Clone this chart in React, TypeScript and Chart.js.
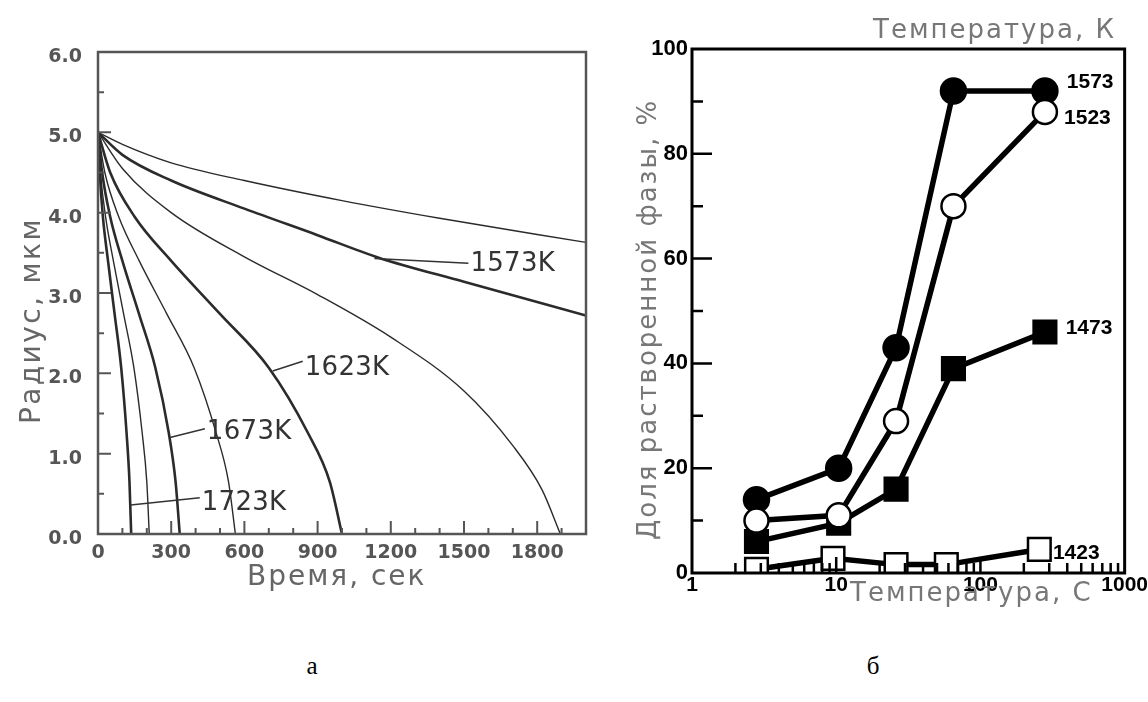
import React, { useEffect, useRef } from "react";
import { Chart, registerables } from "chart.js";

Chart.register(...registerables);

// ---------- Panel "а": radius vs time ----------
const timeTickValues = [0, 300, 600, 900, 1200, 1500, 1800];
const timeMinorTicks = [100, 200, 400, 500, 700, 800, 1000, 1100, 1300, 1400, 1600, 1700, 1900];
const radiusTickValues = [0, 1, 2, 3, 4, 5, 6];
const radiusMinorTicks = [0.5, 1.5, 2.5, 3.5, 4.5, 5.5];

// curves (time in s, radius in µm)
const tA = [0, 100, 300, 600, 1000, 1400, 2000];
const rA = [5, 4.85, 4.62, 4.4, 4.15, 3.93, 3.63];
const t1573 = [0, 100, 300, 600, 900, 1150, 1500, 2000];
const r1573 = [5, 4.72, 4.4, 4.05, 3.72, 3.44, 3.14, 2.72];
const tC = [0, 100, 300, 600, 900, 1200, 1500, 1700, 1820, 1895];
const rC = [5, 4.55, 4.0, 3.45, 2.98, 2.45, 1.78, 1.1, 0.55, 0];
const t1623 = [0, 50, 150, 300, 500, 700, 860, 950, 1000];
const r1623 = [5, 4.5, 3.95, 3.4, 2.74, 2.07, 1.26, 0.65, 0];
const tE = [0, 28, 85, 169, 282, 394, 484, 535, 563];
const rE = [5, 4.5, 3.95, 3.4, 2.74, 2.07, 1.26, 0.65, 0];
const t1673 = [0, 17, 50, 100, 168, 235, 290, 318, 335];
const r1673 = [5, 4.5, 3.95, 3.4, 2.74, 2.07, 1.26, 0.65, 0];
const tG = [0, 10, 31, 63, 105, 147, 181, 200, 210];
const rG = [5, 4.5, 3.95, 3.4, 2.74, 2.07, 1.26, 0.65, 0];
const t1723 = [0, 7, 20, 41, 68, 95, 117, 129, 136];
const r1723 = [5, 4.5, 3.95, 3.4, 2.74, 2.07, 1.26, 0.65, 0];

const leftCurveLabels = ["1573K", "1623K", "1673K", "1723K"];
const leaderFromT = [1133, 716, 295, 134];
const leaderFromR = [3.43, 2.03, 1.2, 0.36];
const leaderToT = [1518, 839, 438, 417];
const leaderToR = [3.37, 2.15, 1.31, 0.45];
const labelR = [3.37, 2.07, 1.28, 0.4];

// ---------- Panel "б": dissolved fraction vs time (log) ----------
const logTickValues = [1, 10, 100, 1000];
const logMinorTicks = [2, 3, 4, 5, 6, 7, 8, 9, 20, 30, 40, 50, 60, 70, 80, 90, 200, 300, 400, 500, 600, 700, 800, 900];
const logMajorTicks = [10, 100];
const fracTickValues = [0, 20, 40, 60, 80, 100];
const fracMinorTicks = [10, 30, 50, 70, 90];
const fracMajorTicks = [20, 40, 60, 80];

const timesMain = [2.8, 10.4, 26, 65, 280];
const times1423 = [2.8, 9.5, 26, 58, 256];
const frac1573 = [14, 20, 43, 92, 92];
const frac1523 = [10, 11, 29, 70, 88];
const frac1473 = [6, 9.5, 16, 39, 46];
const frac1423 = [0.7, 2.8, 1.6, 1.6, 4.5];

const rightLabels = ["1573", "1523", "1473", "1423"];
const rightLabelX = [397, 380, 390, 318];
const rightLabelY = [93.7, 86.8, 46.8, 3.8];

const SANS = '"DejaVu Sans", sans-serif';
const ARIAL = '"Liberation Sans", Arial, sans-serif';

function pts(xs: number[], ys: number[]) {
  return xs.map((x, i) => ({ x, y: ys[i] }));
}

function spacedText(ctx: any, text: string, x: number, y: number, spacing: number) {
  ctx.letterSpacing = spacing + "px";
  ctx.fillText(text, x, y);
  ctx.letterSpacing = "0px";
}

const leftDecor = {
  id: "leftDecor",
  afterDatasetsDraw(chart: any) {
    const { ctx, chartArea: a, scales } = chart;
    const x = scales.x;
    const y = scales.y;
    ctx.save();
    ctx.strokeStyle = "#555";
    ctx.lineWidth = 2.5;
    ctx.strokeRect(a.left, a.top, a.right - a.left, a.bottom - a.top);
    ctx.lineWidth = 2;
    ctx.beginPath();
    for (const v of radiusTickValues.slice(1, 6)) {
      const py = y.getPixelForValue(v);
      ctx.moveTo(a.left, py);
      ctx.lineTo(a.left + 13, py);
    }
    for (const v of radiusMinorTicks) {
      const py = y.getPixelForValue(v);
      ctx.moveTo(a.left, py);
      ctx.lineTo(a.left + 6, py);
    }
    for (const v of timeTickValues.slice(1)) {
      const px = x.getPixelForValue(v);
      ctx.moveTo(px, a.bottom);
      ctx.lineTo(px, a.bottom - 13);
    }
    for (const v of timeMinorTicks) {
      const px = x.getPixelForValue(v);
      ctx.moveTo(px, a.bottom);
      ctx.lineTo(px, a.bottom - 6);
    }
    ctx.stroke();

    // curve labels with leader lines
    ctx.strokeStyle = "#333";
    ctx.lineWidth = 1.5;
    ctx.fillStyle = "#333";
    ctx.font = `26px ${SANS}`;
    ctx.textBaseline = "middle";
    ctx.textAlign = "left";
    leftCurveLabels.forEach((lab, i) => {
      const x1 = x.getPixelForValue(leaderFromT[i]);
      const y1 = y.getPixelForValue(leaderFromR[i]);
      const x2 = x.getPixelForValue(leaderToT[i]);
      const y2 = y.getPixelForValue(leaderToR[i]);
      ctx.beginPath();
      ctx.moveTo(x1, y1);
      ctx.lineTo(x2, y2);
      ctx.stroke();
      spacedText(ctx, lab, x2 + 2, y.getPixelForValue(labelR[i]) + 1, 0.3);
    });

    // axis titles
    ctx.fillStyle = "#666";
    ctx.font = `28px ${SANS}`;
    ctx.textBaseline = "alphabetic";
    ctx.textAlign = "left";
    spacedText(ctx, "Время, сек", 247, 585, 2);
    ctx.save();
    ctx.translate(40, 424);
    ctx.rotate(-Math.PI / 2);
    spacedText(ctx, "Радиус, мкм", 0, 0, 2.4);
    ctx.restore();
    ctx.restore();
  },
};

const rightDecor = {
  id: "rightDecor",
  afterDatasetsDraw(chart: any) {
    const { ctx, chartArea: a, scales } = chart;
    const x = scales.x;
    const y = scales.y;
    ctx.save();
    ctx.strokeStyle = "#000";
    ctx.lineWidth = 3;
    ctx.strokeRect(a.left, a.top, a.right - a.left, a.bottom - a.top);
    ctx.lineWidth = 2.5;
    ctx.beginPath();
    for (const v of fracMajorTicks) {
      const py = y.getPixelForValue(v);
      ctx.moveTo(a.left, py);
      ctx.lineTo(a.left + 20, py);
    }
    for (const v of fracMinorTicks) {
      const py = y.getPixelForValue(v);
      ctx.moveTo(a.left, py);
      ctx.lineTo(a.left + 11, py);
    }
    for (const v of logMinorTicks) {
      const px = x.getPixelForValue(v);
      ctx.moveTo(px, a.bottom);
      ctx.lineTo(px, a.bottom - 10);
    }
    for (const v of logMajorTicks) {
      const px = x.getPixelForValue(v);
      ctx.moveTo(px, a.bottom);
      ctx.lineTo(px, a.bottom - 16);
    }
    ctx.stroke();

    ctx.fillStyle = "#000";
    ctx.font = `bold 21px ${ARIAL}`;
    ctx.textBaseline = "middle";
    ctx.textAlign = "left";
    rightLabels.forEach((lab, i) => {
      ctx.fillText(lab, x.getPixelForValue(rightLabelX[i]), y.getPixelForValue(rightLabelY[i]));
    });

    ctx.fillStyle = "#777";
    ctx.font = `26px ${SANS}`;
    ctx.textBaseline = "alphabetic";
    ctx.textAlign = "left";
    spacedText(ctx, "Температура, К", 273, 38, 2);
    spacedText(ctx, "Температура, С", 250, 601, 2);
    ctx.save();
    ctx.translate(56, 540);
    ctx.rotate(-Math.PI / 2);
    spacedText(ctx, "Доля растворенной фазы, %", 0, 0, 2);
    ctx.restore();
    ctx.restore();
  },
};

function LeftChart() {
  const ref = useRef<HTMLCanvasElement>(null);
  useEffect(() => {
    const thick = 2.6;
    const thin = 1.4;
    const mk = (t: number[], r: number[], w: number) => ({
      data: pts(t, r),
      borderColor: "#2b2b2b",
      borderWidth: w,
      pointRadius: 0,
      cubicInterpolationMode: "monotone" as const,
      fill: false,
    });
    const chart = new Chart(ref.current!, {
      type: "line",
      data: {
        datasets: [
          mk(tA, rA, thin),
          mk(t1573, r1573, thick),
          mk(tC, rC, thin),
          mk(t1623, r1623, thick),
          mk(tE, rE, thin),
          mk(t1673, r1673, thick),
          mk(tG, rG, thin),
          mk(t1723, r1723, thick),
        ],
      },
      options: {
        animation: false,
        responsive: false,
        layout: { padding: { top: 52, right: 14, left: 0, bottom: 0 } },
        plugins: { legend: { display: false }, tooltip: { enabled: false } },
        scales: {
          x: {
            type: "linear",
            min: 0,
            max: 2000,
            grid: { display: false, drawTicks: false },
            border: { display: false },
            afterBuildTicks: (s: any) => {
              s.ticks = timeTickValues.map((v) => ({ value: v }));
            },
            afterFit: (s: any) => {
              s.height = 86;
            },
            ticks: {
              autoSkip: false,
              maxRotation: 0,
              padding: 8,
              color: "#555",
              font: { family: SANS, size: 19, weight: "bold" },
              callback: (v: any) => String(v),
            },
          },
          y: {
            type: "linear",
            min: 0,
            max: 6,
            grid: { display: false, drawTicks: false },
            border: { display: false },
            afterBuildTicks: (s: any) => {
              s.ticks = radiusTickValues.map((v) => ({ value: v }));
            },
            afterFit: (s: any) => {
              s.width = 98;
            },
            ticks: {
              autoSkip: false,
              padding: 16,
              labelOffset: 5,
              color: "#555",
              font: { family: SANS, size: 19, weight: "bold" },
              callback: (v: any) => Number(v).toFixed(1),
            },
          },
        },
      },
      plugins: [leftDecor],
    });
    return () => chart.destroy();
  }, []);
  return (
    <canvas
      ref={ref}
      width={600}
      height={620}
      style={{ position: "absolute", left: 0, top: 0, width: 600, height: 620 }}
    />
  );
}

function RightChart() {
  const ref = useRef<HTMLCanvasElement>(null);
  useEffect(() => {
    const base = {
      borderColor: "#000",
      borderWidth: 5.5,
      pointBorderColor: "#000",
      pointBorderWidth: 2.5,
      fill: false,
      tension: 0,
    };
    const chart = new Chart(ref.current!, {
      type: "line",
      data: {
        datasets: [
          {
            ...base,
            data: pts(timesMain, frac1473),
            pointStyle: "rect",
            pointRadius: 16,
            pointBackgroundColor: "#000",
            order: 3,
          },
          {
            ...base,
            data: pts(timesMain, frac1573),
            pointStyle: "circle",
            pointRadius: 12.5,
            pointBackgroundColor: "#000",
            order: 2,
          },
          {
            ...base,
            data: pts(timesMain, frac1523),
            pointStyle: "circle",
            pointRadius: 12,
            pointBackgroundColor: "#fff",
            order: 1,
          },
          {
            ...base,
            data: pts(times1423, frac1423),
            pointStyle: "rect",
            pointRadius: 16,
            pointBackgroundColor: "#fff",
            order: 0,
          },
        ],
      },
      options: {
        animation: false,
        responsive: false,
        layout: { padding: { top: 49, right: 23, left: 0, bottom: 0 } },
        plugins: { legend: { display: false }, tooltip: { enabled: false } },
        scales: {
          x: {
            type: "logarithmic",
            min: 1,
            max: 1000,
            grid: { display: false, drawTicks: false },
            border: { display: false },
            afterBuildTicks: (s: any) => {
              s.ticks = logTickValues.map((v) => ({ value: v }));
            },
            afterFit: (s: any) => {
              s.height = 67;
            },
            ticks: {
              autoSkip: false,
              maxRotation: 0,
              padding: 0,
              color: "#000",
              font: { family: ARIAL, size: 21, weight: "bold" },
              callback: (v: any) => String(v),
            },
          },
          y: {
            type: "linear",
            min: 0,
            max: 100,
            grid: { display: false, drawTicks: false },
            border: { display: false },
            afterBuildTicks: (s: any) => {
              s.ticks = fracTickValues.map((v) => ({ value: v }));
            },
            afterFit: (s: any) => {
              s.width = 92;
            },
            ticks: {
              autoSkip: false,
              padding: 4,
              color: "#000",
              font: { family: ARIAL, size: 22, weight: "bold" },
              callback: (v: any) => String(v),
            },
          },
        },
      },
      plugins: [rightDecor],
    });
    return () => chart.destroy();
  }, []);
  return (
    <canvas
      ref={ref}
      width={548}
      height={640}
      style={{ position: "absolute", left: 600, top: 0, width: 548, height: 640 }}
    />
  );
}

export default function App() {
  const cap: React.CSSProperties = {
    position: "absolute",
    top: 652,
    fontFamily: '"Liberation Serif", "Times New Roman", serif',
    fontSize: 25,
    color: "#000",
    width: 40,
    textAlign: "center",
  };
  return (
    <div style={{ position: "absolute", left: 0, top: 0, width: 1148, height: 702, background: "#fff", overflow: "hidden" }}>
      <LeftChart />
      <RightChart />
      <div style={{ ...cap, left: 292 }}>а</div>
      <div style={{ ...cap, left: 853 }}>б</div>
    </div>
  );
}
